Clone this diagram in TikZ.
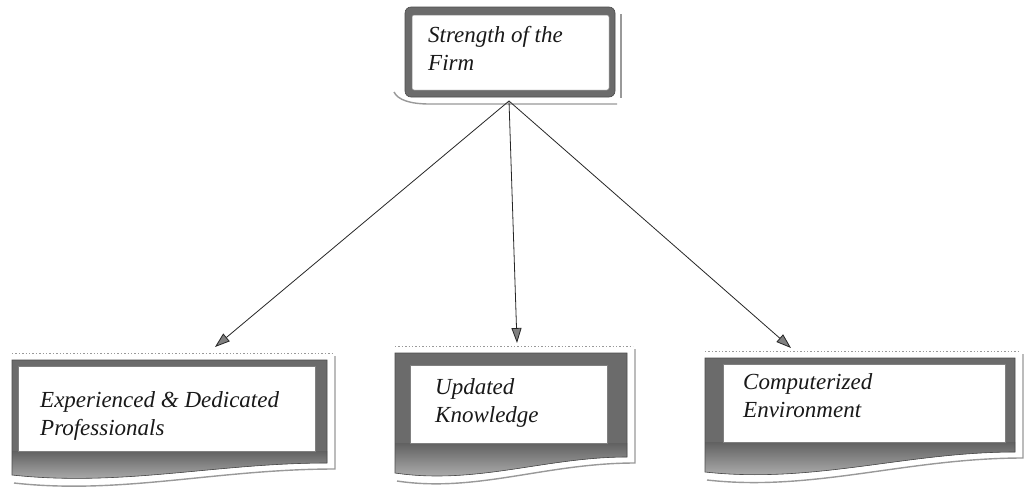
\documentclass[tikz,border=0pt]{standalone}
\usepackage{fontspec}
\setmainfont{Liberation Serif}
\usetikzlibrary{arrows.meta,shadings}
\tikzset{
  framefill/.style={fill=black!58},
  frameedge/.style={draw=black!70,line width=0.6pt},
  shadowline/.style={draw=black!40,line width=1.4pt},
  lbl/.style={anchor=base west,align=left,inner sep=0pt,font=\itshape\fontsize{23}{27.5}\selectfont,text=black!90},
  arr/.style={draw=black!85,line width=0.8pt,-{Triangle[length=15pt,width=10pt,fill=black!50]}}
}
% #1 L, #2 T, #3 R, #4 inner L, #5 inner T, #6 inner R, #7 inner B, #8 wave right y, #9 wave left y
\newcommand\docbox[9]{%
  \draw[shadowline,dotted,line width=1pt] (#1,#2-7) -- (#3+6,#2-7);
  \draw[shadowline] (#3+8,#2-4) -- (#3+8,#8+6)
     .. controls ({#3-0.35*(#3-#1)},#8+6) and ({#1+0.35*(#3-#1)},#9+20) .. (#1+2,#9+8);
  \fill[framefill] (#1,#2) -- (#3,#2) -- (#3,#8)
     .. controls ({#3-0.35*(#3-#1)},#8) and ({#1+0.35*(#3-#1)},#9+12) .. (#1,#9) -- cycle;
  \shade[top color=black!62,bottom color=black!25] (#1,#7) -- (#3,#7) -- (#3,#8)
     .. controls ({#3-0.35*(#3-#1)},#8) and ({#1+0.35*(#3-#1)},#9+12) .. (#1,#9) -- cycle;
  \fill[white] (#4,#5) rectangle (#6,#7);
  \draw[frameedge] (#1,#2) -- (#3,#2) -- (#3,#8)
     .. controls ({#3-0.35*(#3-#1)},#8) and ({#1+0.35*(#3-#1)},#9+12) .. (#1,#9) -- cycle;
  \draw[draw=black!50,line width=0.5pt] (#4,#5) rectangle (#6,#7);
}
\begin{document}
\begin{tikzpicture}[x=1pt,y=-1pt]
\useasboundingbox[fill=white] (0,0) rectangle (1025,493);

% top box
\draw[shadowline] (621,14) -- (621,98);
\draw[shadowline] (394,92) .. controls (398,100) and (410,104) .. (430,104) -- (617,104);
\fill[framefill,rounded corners=6pt] (405,7) rectangle (615,97);
\draw[frameedge,rounded corners=6pt] (405,7) rectangle (615,97);
\fill[white,rounded corners=2pt] (412,15) rectangle (609,90);
\draw[draw=black!50,line width=0.5pt,rounded corners=2pt] (412,15) rectangle (609,90);
\node[lbl] (firm) at (428,70) {Strength of the\\Firm};

% bottom boxes
\docbox{12}{360}{327}{18}{366}{315}{451}{463}{475}
\node[lbl] (exp) at (40,435) {Experienced \& Dedicated\\Professionals};

\docbox{395}{353}{627}{410}{365}{607}{443}{457}{473}
\node[lbl] (upd) at (435,422) {Updated\\Knowledge};

\docbox{705}{358}{1015}{723}{364}{1005}{442}{452}{472}
\node[lbl] (comp) at (743,417) {Computerized\\Environment};

% connectors
\coordinate (src) at (509,101);
\coordinate (tl) at (215,347);
\coordinate (tm) at (517,343);
\coordinate (tr) at (791,348);
\draw[arr] (src) -- (tl);
\draw[arr] (src) -- (tm);
\draw[arr] (src) -- (tr);
\end{tikzpicture}
\end{document}
